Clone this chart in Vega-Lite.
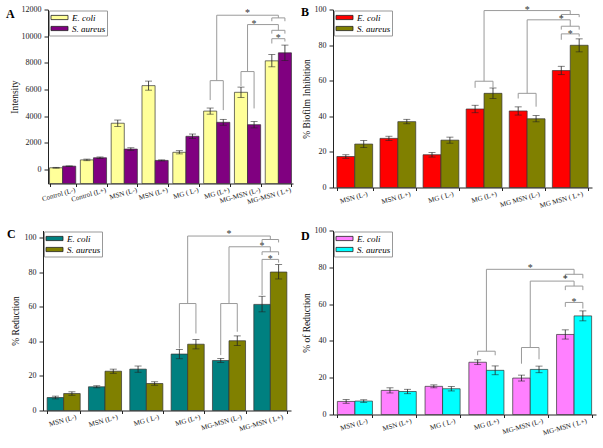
{
"$schema": "https://vega.github.io/schema/vega-lite/v6.json",
"padding": {"left": 0, "top": 4.5, "right": 2, "bottom": 2},
"background": "white",
"config": {
  "font": "Liberation Serif",
  "view": {"stroke": null},
  "axis": {"labelFont": "Liberation Serif", "titleFont": "Liberation Serif", "labelColor": "#222", "titleColor": "#111", "domain": true, "ticks": true, "domainColor": "#222", "tickColor": "#222", "grid": false, "titleFontWeight": "normal", "labelFontSize": 8, "titleFontSize": 9.5, "labelOverlap": false},
  "axisX": {"labelAngle": -16, "labelAlign": "right", "labelBaseline": "top", "labelOffset": 11, "labelFontSize": 7, "tickBand": "extent", "tickSize": 3, "labelPadding": -1, "title": null},
  "axisY": {"tickSize": 4, "labelPadding": 3, "labelOverlap": false, "labelFlush": false},
  "title": {"font": "Liberation Serif", "fontSize": 12, "fontWeight": "bold", "anchor": "start", "frame": "bounds", "baseline": "top", "color": "#000"},
  "legend": {"title": null, "orient": "top-left", "offset": 1, "padding": 1.5, "strokeColor": "#999", "fillColor": "white", "symbolType": "M-1.7,-0.42H1.7V0.42H-1.7Z", "symbolSize": 100, "symbolOffset": 3.5, "symbolStrokeColor": "#222", "symbolStrokeWidth": 0.8, "symbolOpacity": 1, "labelFont": "Liberation Serif", "labelFontStyle": "italic", "labelFontSize": 9, "labelOffset": 7, "rowPadding": 0}
},
"datasets": {
  "Abar": [
    {"c":"Control (L-)","s":"E. coli","v":130,"lo":100,"hi":160},
    {"c":"Control (L-)","s":"S. aureus","v":250,"lo":230,"hi":270},
    {"c":"Control (L+)","s":"E. coli","v":720,"lo":660,"hi":780},
    {"c":"Control (L+)","s":"S. aureus","v":880,"lo":820,"hi":940},
    {"c":"MSN (L-)","s":"E. coli","v":3470,"lo":3230,"hi":3710},
    {"c":"MSN (L-)","s":"S. aureus","v":1530,"lo":1430,"hi":1630},
    {"c":"MSN (L+)","s":"E. coli","v":6290,"lo":5950,"hi":6630},
    {"c":"MSN (L+)","s":"S. aureus","v":680,"lo":640,"hi":720},
    {"c":"MG ( L-)","s":"E. coli","v":1290,"lo":1170,"hi":1410},
    {"c":"MG ( L-)","s":"S. aureus","v":2490,"lo":2320,"hi":2660},
    {"c":"MG (L+)","s":"E. coli","v":4380,"lo":4150,"hi":4610},
    {"c":"MG (L+)","s":"S. aureus","v":3540,"lo":3320,"hi":3760},
    {"c":"MG-MSN (L-)","s":"E. coli","v":5790,"lo":5400,"hi":6180},
    {"c":"MG-MSN (L-)","s":"S. aureus","v":3360,"lo":3120,"hi":3600},
    {"c":"MG-MSN ( L+)","s":"E. coli","v":8150,"lo":7700,"hi":8620},
    {"c":"MG-MSN ( L+)","s":"S. aureus","v":8750,"lo":8170,"hi":9330}
  ],
  "Abrk": [
    {"c":"MG (L+)","s":"E. coli","y":5207,"id":"b1","o":1},
    {"c":"MG (L+)","s":"E. coli","y":6665,"id":"b1","o":2},
    {"c":"MG (L+)","s":"S. aureus","y":6665,"id":"b1","o":3},
    {"c":"MG (L+)","s":"S. aureus","y":4453,"id":"b1","o":4},
    {"c":"MG-MSN (L-)","s":"E. coli","y":6265,"id":"b2","o":1},
    {"c":"MG-MSN (L-)","s":"E. coli","y":7345,"id":"b2","o":2},
    {"c":"MG-MSN (L-)","s":"S. aureus","y":7345,"id":"b2","o":3},
    {"c":"MG-MSN (L-)","s":"S. aureus","y":4580,"id":"b2","o":4},
    {"c":"MG-MSN ( L+)","s":"E. coli","y":11120,"id":"t1","o":1},
    {"c":"MG-MSN ( L+)","s":"E. coli","y":11370,"id":"t1","o":2},
    {"c":"MG-MSN ( L+)","s":"S. aureus","y":11370,"id":"t1","o":3},
    {"c":"MG-MSN ( L+)","s":"S. aureus","y":11120,"id":"t1","o":4},
    {"c":"MG-MSN ( L+)","s":"E. coli","y":10190,"id":"t2","o":1},
    {"c":"MG-MSN ( L+)","s":"E. coli","y":10440,"id":"t2","o":2},
    {"c":"MG-MSN ( L+)","s":"S. aureus","y":10440,"id":"t2","o":3},
    {"c":"MG-MSN ( L+)","s":"S. aureus","y":10190,"id":"t2","o":4},
    {"c":"MG-MSN ( L+)","s":"E. coli","y":9450,"id":"t3","o":1},
    {"c":"MG-MSN ( L+)","s":"E. coli","y":9810,"id":"t3","o":2},
    {"c":"MG-MSN ( L+)","s":"S. aureus","y":9810,"id":"t3","o":3},
    {"c":"MG-MSN ( L+)","s":"S. aureus","y":9600,"id":"t3","o":4}
  ],
  "Acon": [
    {"c":"MG (L+)","y":6665,"id":"k1","o":1},
    {"c":"MG (L+)","y":11570,"id":"k1","o":2},
    {"c":"MG-MSN ( L+)","y":11570,"id":"k1","o":3},
    {"c":"MG-MSN ( L+)","y":11370,"id":"k1","o":4},
    {"c":"MG-MSN (L-)","y":7345,"id":"k2","o":1},
    {"c":"MG-MSN (L-)","y":10870,"id":"k2","o":2},
    {"c":"MG-MSN ( L+)","y":10870,"id":"k2","o":3},
    {"c":"MG-MSN ( L+)","y":10440,"id":"k2","o":4}
  ],
  "AstO": [{"c":"MG-MSN (L-)","s":"S. aureus","y":11030}],
  "AstM": [{"c":"MG-MSN (L-)","y":11900},{"c":"MG-MSN ( L+)","y":10040}],
  "Bbar": [
    {"c":"MSN (L-)","s":"E. coli","v":17.4,"lo":16.4,"hi":18.4},
    {"c":"MSN (L-)","s":"S. aureus","v":24.4,"lo":22.4,"hi":26.4},
    {"c":"MSN (L+)","s":"E. coli","v":27.6,"lo":26.4,"hi":28.8},
    {"c":"MSN (L+)","s":"S. aureus","v":37,"lo":35.8,"hi":38.3},
    {"c":"MG ( L-)","s":"E. coli","v":18.4,"lo":17.1,"hi":19.7},
    {"c":"MG ( L-)","s":"S. aureus","v":26.6,"lo":24.9,"hi":28.3},
    {"c":"MG (L+)","s":"E. coli","v":44.1,"lo":42,"hi":46.2},
    {"c":"MG (L+)","s":"S. aureus","v":52.9,"lo":50,"hi":55.9},
    {"c":"MG MSN (L-)","s":"E. coli","v":43,"lo":40.7,"hi":45.3},
    {"c":"MG MSN (L-)","s":"S. aureus","v":38.6,"lo":36.9,"hi":40.4},
    {"c":"MG MSN ( L+)","s":"E. coli","v":65.7,"lo":63.4,"hi":68.1},
    {"c":"MG MSN ( L+)","s":"S. aureus","v":79.9,"lo":76.2,"hi":83.5}
  ],
  "Bbrk": [
    {"c":"MG (L+)","s":"E. coli","y":56,"id":"b1","o":1},
    {"c":"MG (L+)","s":"E. coli","y":59.7,"id":"b1","o":2},
    {"c":"MG (L+)","s":"S. aureus","y":59.7,"id":"b1","o":3},
    {"c":"MG (L+)","s":"S. aureus","y":56,"id":"b1","o":4},
    {"c":"MG MSN (L-)","s":"E. coli","y":50,"id":"b2","o":1},
    {"c":"MG MSN (L-)","s":"E. coli","y":52.9,"id":"b2","o":2},
    {"c":"MG MSN (L-)","s":"S. aureus","y":52.9,"id":"b2","o":3},
    {"c":"MG MSN (L-)","s":"S. aureus","y":45.4,"id":"b2","o":4},
    {"c":"MG MSN ( L+)","s":"E. coli","y":95.7,"id":"t1","o":1},
    {"c":"MG MSN ( L+)","s":"E. coli","y":97.2,"id":"t1","o":2},
    {"c":"MG MSN ( L+)","s":"S. aureus","y":97.2,"id":"t1","o":3},
    {"c":"MG MSN ( L+)","s":"S. aureus","y":95.7,"id":"t1","o":4},
    {"c":"MG MSN ( L+)","s":"E. coli","y":88.7,"id":"t2","o":1},
    {"c":"MG MSN ( L+)","s":"E. coli","y":90.6,"id":"t2","o":2},
    {"c":"MG MSN ( L+)","s":"S. aureus","y":90.6,"id":"t2","o":3},
    {"c":"MG MSN ( L+)","s":"S. aureus","y":88.7,"id":"t2","o":4},
    {"c":"MG MSN ( L+)","s":"E. coli","y":83,"id":"t3","o":1},
    {"c":"MG MSN ( L+)","s":"E. coli","y":86.3,"id":"t3","o":2},
    {"c":"MG MSN ( L+)","s":"S. aureus","y":86.3,"id":"t3","o":3},
    {"c":"MG MSN ( L+)","s":"S. aureus","y":84.8,"id":"t3","o":4}
  ],
  "Bcon": [
    {"c":"MG (L+)","y":59.7,"id":"k1","o":1},
    {"c":"MG (L+)","y":99.4,"id":"k1","o":2},
    {"c":"MG MSN ( L+)","y":99.4,"id":"k1","o":3},
    {"c":"MG MSN ( L+)","y":97.2,"id":"k1","o":4},
    {"c":"MG MSN (L-)","y":52.9,"id":"k2","o":1},
    {"c":"MG MSN (L-)","y":94.2,"id":"k2","o":2},
    {"c":"MG MSN ( L+)","y":94.2,"id":"k2","o":3},
    {"c":"MG MSN ( L+)","y":90.6,"id":"k2","o":4}
  ],
  "BstO": [{"c":"MG MSN ( L+)","s":"E. coli","y":95.7}],
  "BstM": [{"c":"MG MSN (L-)","y":101},{"c":"MG MSN ( L+)","y":87.6}],
  "Cbar": [
    {"c":"MSN (L-)","s":"E. coli","v":7.5,"lo":6.7,"hi":8.3},
    {"c":"MSN (L-)","s":"S. aureus","v":9.8,"lo":8.8,"hi":10.8},
    {"c":"MSN (L+)","s":"E. coli","v":13.7,"lo":13.1,"hi":14.3},
    {"c":"MSN (L+)","s":"S. aureus","v":22.7,"lo":21.5,"hi":23.9},
    {"c":"MG ( L-)","s":"E. coli","v":23.9,"lo":22.1,"hi":25.7},
    {"c":"MG ( L-)","s":"S. aureus","v":15.6,"lo":14.6,"hi":16.6},
    {"c":"MG (L+)","s":"E. coli","v":32.6,"lo":29.9,"hi":35.3},
    {"c":"MG (L+)","s":"S. aureus","v":38.3,"lo":35.6,"hi":41},
    {"c":"MG-MSN (L-)","s":"E. coli","v":28.9,"lo":27.7,"hi":30.1},
    {"c":"MG-MSN (L-)","s":"S. aureus","v":40.3,"lo":37.5,"hi":43.1},
    {"c":"MG-MSN ( L+)","s":"E. coli","v":61.3,"lo":57,"hi":66},
    {"c":"MG-MSN ( L+)","s":"S. aureus","v":80,"lo":76,"hi":84.3}
  ],
  "Cbrk": [
    {"c":"MG (L+)","s":"E. coli","y":35.8,"id":"b1","o":1},
    {"c":"MG (L+)","s":"E. coli","y":61.8,"id":"b1","o":2},
    {"c":"MG (L+)","s":"S. aureus","y":61.8,"id":"b1","o":3},
    {"c":"MG (L+)","s":"S. aureus","y":44.5,"id":"b1","o":4},
    {"c":"MG-MSN (L-)","s":"E. coli","y":32,"id":"b2","o":1},
    {"c":"MG-MSN (L-)","s":"E. coli","y":61.8,"id":"b2","o":2},
    {"c":"MG-MSN (L-)","s":"S. aureus","y":61.8,"id":"b2","o":3},
    {"c":"MG-MSN (L-)","s":"S. aureus","y":45.5,"id":"b2","o":4},
    {"c":"MG-MSN ( L+)","s":"E. coli","y":97.1,"id":"t1","o":1},
    {"c":"MG-MSN ( L+)","s":"E. coli","y":98.8,"id":"t1","o":2},
    {"c":"MG-MSN ( L+)","s":"S. aureus","y":98.8,"id":"t1","o":3},
    {"c":"MG-MSN ( L+)","s":"S. aureus","y":97.1,"id":"t1","o":4},
    {"c":"MG-MSN ( L+)","s":"E. coli","y":89.8,"id":"t2","o":1},
    {"c":"MG-MSN ( L+)","s":"E. coli","y":91.7,"id":"t2","o":2},
    {"c":"MG-MSN ( L+)","s":"S. aureus","y":91.7,"id":"t2","o":3},
    {"c":"MG-MSN ( L+)","s":"S. aureus","y":89.8,"id":"t2","o":4},
    {"c":"MG-MSN ( L+)","s":"E. coli","y":66.7,"id":"t3","o":1},
    {"c":"MG-MSN ( L+)","s":"E. coli","y":87.3,"id":"t3","o":2},
    {"c":"MG-MSN ( L+)","s":"S. aureus","y":87.3,"id":"t3","o":3},
    {"c":"MG-MSN ( L+)","s":"S. aureus","y":85.4,"id":"t3","o":4}
  ],
  "Ccon": [
    {"c":"MG (L+)","y":61.8,"id":"k1","o":1},
    {"c":"MG (L+)","y":100.8,"id":"k1","o":2},
    {"c":"MG-MSN ( L+)","y":100.8,"id":"k1","o":3},
    {"c":"MG-MSN ( L+)","y":98.8,"id":"k1","o":4},
    {"c":"MG-MSN (L-)","y":61.8,"id":"k2","o":1},
    {"c":"MG-MSN (L-)","y":94.6,"id":"k2","o":2},
    {"c":"MG-MSN ( L+)","y":94.6,"id":"k2","o":3},
    {"c":"MG-MSN ( L+)","y":91.7,"id":"k2","o":4}
  ],
  "CstO": [{"c":"MG-MSN ( L+)","s":"E. coli","y":96.1}],
  "CstM": [{"c":"MG-MSN (L-)","y":103.3},{"c":"MG-MSN ( L+)","y":88.8}],
  "Dbar": [
    {"c":"MSN (L-)","s":"E. coli","v":7.1,"lo":6.1,"hi":8.1},
    {"c":"MSN (L-)","s":"S. aureus","v":7.3,"lo":6.6,"hi":8},
    {"c":"MSN (L+)","s":"E. coli","v":13.1,"lo":11.7,"hi":14.5},
    {"c":"MSN (L+)","s":"S. aureus","v":12.5,"lo":11.3,"hi":13.7},
    {"c":"MG ( L-)","s":"E. coli","v":15.3,"lo":14.5,"hi":16.1},
    {"c":"MG ( L-)","s":"S. aureus","v":14,"lo":12.8,"hi":15.2},
    {"c":"MG (L+)","s":"E. coli","v":28.4,"lo":27.1,"hi":29.7},
    {"c":"MG (L+)","s":"S. aureus","v":24,"lo":21.6,"hi":26.4},
    {"c":"MG-MSN (L-)","s":"E. coli","v":19.8,"lo":18.2,"hi":21.4},
    {"c":"MG-MSN (L-)","s":"S. aureus","v":24.5,"lo":22.7,"hi":26.3},
    {"c":"MG-MSN ( L+)","s":"E. coli","v":43.5,"lo":41,"hi":46},
    {"c":"MG-MSN ( L+)","s":"S. aureus","v":53.6,"lo":50.9,"hi":56.3}
  ],
  "Dbrk": [
    {"c":"MG (L+)","s":"E. coli","y":32.2,"id":"b1","o":1},
    {"c":"MG (L+)","s":"E. coli","y":34.4,"id":"b1","o":2},
    {"c":"MG (L+)","s":"S. aureus","y":34.4,"id":"b1","o":3},
    {"c":"MG (L+)","s":"S. aureus","y":32.2,"id":"b1","o":4},
    {"c":"MG-MSN (L-)","s":"E. coli","y":27.6,"id":"b2","o":1},
    {"c":"MG-MSN (L-)","s":"E. coli","y":36.4,"id":"b2","o":2},
    {"c":"MG-MSN (L-)","s":"S. aureus","y":36.4,"id":"b2","o":3},
    {"c":"MG-MSN (L-)","s":"S. aureus","y":30,"id":"b2","o":4},
    {"c":"MG-MSN ( L+)","s":"E. coli","y":74,"id":"t1","o":1},
    {"c":"MG-MSN ( L+)","s":"E. coli","y":76.2,"id":"t1","o":2},
    {"c":"MG-MSN ( L+)","s":"S. aureus","y":76.2,"id":"t1","o":3},
    {"c":"MG-MSN ( L+)","s":"S. aureus","y":74,"id":"t1","o":4},
    {"c":"MG-MSN ( L+)","s":"E. coli","y":67.6,"id":"t2","o":1},
    {"c":"MG-MSN ( L+)","s":"E. coli","y":69.8,"id":"t2","o":2},
    {"c":"MG-MSN ( L+)","s":"S. aureus","y":69.8,"id":"t2","o":3},
    {"c":"MG-MSN ( L+)","s":"S. aureus","y":67.6,"id":"t2","o":4},
    {"c":"MG-MSN ( L+)","s":"E. coli","y":58.5,"id":"t3","o":1},
    {"c":"MG-MSN ( L+)","s":"E. coli","y":60.9,"id":"t3","o":2},
    {"c":"MG-MSN ( L+)","s":"S. aureus","y":60.9,"id":"t3","o":3},
    {"c":"MG-MSN ( L+)","s":"S. aureus","y":57.6,"id":"t3","o":4}
  ],
  "Dcon": [
    {"c":"MG (L+)","y":34.4,"id":"k1","o":1},
    {"c":"MG (L+)","y":78.9,"id":"k1","o":2},
    {"c":"MG-MSN ( L+)","y":78.9,"id":"k1","o":3},
    {"c":"MG-MSN ( L+)","y":76.2,"id":"k1","o":4},
    {"c":"MG-MSN (L-)","y":36.4,"id":"k2","o":1},
    {"c":"MG-MSN (L-)","y":72.5,"id":"k2","o":2},
    {"c":"MG-MSN ( L+)","y":72.5,"id":"k2","o":3},
    {"c":"MG-MSN ( L+)","y":69.8,"id":"k2","o":4}
  ],
  "DstO": [{"c":"MG-MSN ( L+)","s":"E. coli","y":74.5}],
  "DstM": [{"c":"MG-MSN (L-)","y":80.7},{"c":"MG-MSN ( L+)","y":62.5}]
},
"resolve": {"scale": {"color": "independent", "x": "independent", "y": "independent", "xOffset": "independent"}, "legend": {"color": "independent"}},
"spacing": 17,
"vconcat": [
 {"hconcat": [
  {"width": 8, "height": 10, "data": {"values": []}, "mark": {"type": "point", "opacity": 0}},
  {"width": 245, "height": 174,
   "title": {"text": "A", "offset": -15.5, "dx": -3},
   "encoding": {"x": {"field": "c", "type": "nominal", "sort": null, "scale": {"domain": ["Control (L-)","Control (L+)","MSN (L-)","MSN (L+)","MG ( L-)","MG (L+)","MG-MSN (L-)","MG-MSN ( L+)"], "paddingInner": 0.15, "paddingOuter": 0.05}, "axis": {"title": null}}},
   "layer": [
    {"data": {"name": "Abar"}, "mark": {"type": "bar", "stroke": "#333", "strokeWidth": 0.7},
     "encoding": {"xOffset": {"field": "s", "type": "nominal", "scale": {"domain": ["E. coli","S. aureus"], "paddingInner": 0, "paddingOuter": 0}},
      "y": {"field": "v", "type": "quantitative", "scale": {"domain": [-1050, 12000], "nice": false, "zero": false}, "axis": {"title": "Intensity", "values": [0,2000,4000,6000,8000,10000,12000], "tickCount": 7, "format": "d", "titlePadding": 2, "labelOverlap": false}},
      "y2": {"datum": -1050},
      "color": {"field": "s", "type": "nominal", "scale": {"domain": ["E. coli","S. aureus"], "range": ["#FFFF99","#800080"]}, "legend": {"title": null}}}},
    {"data": {"name": "Abar"}, "mark": {"type": "rule", "color": "#222", "strokeWidth": 0.8},
     "encoding": {"xOffset": {"field": "s", "type": "nominal", "scale": {"domain": ["E. coli","S. aureus"], "paddingInner": 0, "paddingOuter": 0}},
      "y": {"field": "lo", "type": "quantitative", "scale": {"domain": [-1050, 12000], "nice": false, "zero": false}, "axis": {"title": "Intensity", "values": [0,2000,4000,6000,8000,10000,12000], "tickCount": 7, "format": "d", "titlePadding": 2, "labelOverlap": false}}, "y2": {"field": "hi"}}},
    {"data": {"name": "Abar"}, "mark": {"type": "tick", "color": "#222", "thickness": 0.8, "size": 7},
     "encoding": {"xOffset": {"field": "s", "type": "nominal", "scale": {"domain": ["E. coli","S. aureus"], "paddingInner": 0, "paddingOuter": 0}},
      "y": {"field": "lo", "type": "quantitative", "scale": {"domain": [-1050, 12000], "nice": false, "zero": false}, "axis": {"title": "Intensity", "values": [0,2000,4000,6000,8000,10000,12000], "tickCount": 7, "format": "d", "titlePadding": 2, "labelOverlap": false}}}},
    {"data": {"name": "Abar"}, "mark": {"type": "tick", "color": "#222", "thickness": 0.8, "size": 7},
     "encoding": {"xOffset": {"field": "s", "type": "nominal", "scale": {"domain": ["E. coli","S. aureus"], "paddingInner": 0, "paddingOuter": 0}},
      "y": {"field": "hi", "type": "quantitative", "scale": {"domain": [-1050, 12000], "nice": false, "zero": false}, "axis": {"title": "Intensity", "values": [0,2000,4000,6000,8000,10000,12000], "tickCount": 7, "format": "d", "titlePadding": 2, "labelOverlap": false}}}},
    {"data": {"name": "Abrk"}, "mark": {"type": "line", "color": "#9a9a9a", "strokeWidth": 1},
     "encoding": {"xOffset": {"field": "s", "type": "nominal", "scale": {"domain": ["E. coli","S. aureus"], "paddingInner": 0, "paddingOuter": 0}},
      "y": {"field": "y", "type": "quantitative", "scale": {"domain": [-1050, 12000], "nice": false, "zero": false}, "axis": {"title": "Intensity", "values": [0,2000,4000,6000,8000,10000,12000], "tickCount": 7, "format": "d", "titlePadding": 2, "labelOverlap": false}},
      "detail": {"field": "id", "type": "nominal"}, "order": {"field": "o", "type": "quantitative"}}},
    {"data": {"name": "Acon"}, "mark": {"type": "line", "color": "#9a9a9a", "strokeWidth": 1},
     "encoding": {"y": {"field": "y", "type": "quantitative", "scale": {"domain": [-1050, 12000], "nice": false, "zero": false}, "axis": {"title": "Intensity", "values": [0,2000,4000,6000,8000,10000,12000], "tickCount": 7, "format": "d", "titlePadding": 2, "labelOverlap": false}},
      "detail": {"field": "id", "type": "nominal"}, "order": {"field": "o", "type": "quantitative"}}},
    {"data": {"name": "AstO"}, "mark": {"type": "text", "text": "*", "fontSize": 10, "baseline": "middle", "dy": 2, "color": "#333"},
     "encoding": {"xOffset": {"field": "s", "type": "nominal", "scale": {"domain": ["E. coli","S. aureus"], "paddingInner": 0, "paddingOuter": 0}},
      "y": {"field": "y", "type": "quantitative", "scale": {"domain": [-1050, 12000], "nice": false, "zero": false}, "axis": {"title": "Intensity", "values": [0,2000,4000,6000,8000,10000,12000], "tickCount": 7, "format": "d", "titlePadding": 2, "labelOverlap": false}}}},
    {"data": {"name": "AstM"}, "mark": {"type": "text", "text": "*", "fontSize": 10, "baseline": "middle", "dy": 2, "color": "#333"},
     "encoding": {"y": {"field": "y", "type": "quantitative", "scale": {"domain": [-1050, 12000], "nice": false, "zero": false}, "axis": {"title": "Intensity", "values": [0,2000,4000,6000,8000,10000,12000], "tickCount": 7, "format": "d", "titlePadding": 2, "labelOverlap": false}}}}
   ]},
  {"width": 259, "height": 178,
   "title": {"text": "B", "offset": -14.5, "dx": 0},
   "encoding": {"x": {"field": "c", "type": "nominal", "sort": null, "scale": {"domain": ["MSN (L-)","MSN (L+)","MG ( L-)","MG (L+)","MG MSN (L-)","MG MSN ( L+)"], "paddingInner": 0.17, "paddingOuter": 0.09}, "axis": {"title": null}}},
   "layer": [
    {"data": {"name": "Bbar"}, "mark": {"type": "bar", "stroke": "#333", "strokeWidth": 0.7},
     "encoding": {"xOffset": {"field": "s", "type": "nominal", "scale": {"domain": ["E. coli","S. aureus"], "paddingInner": 0, "paddingOuter": 0}},
      "y": {"field": "v", "type": "quantitative", "scale": {"domain": [0, 100], "nice": false}, "axis": {"title": "% Biofilm Inhibition", "values": [0,20,40,60,80,100], "tickCount": 6, "titlePadding": 3, "labelOverlap": false}},
      "color": {"field": "s", "type": "nominal", "scale": {"domain": ["E. coli","S. aureus"], "range": ["#FF0000","#808000"]}, "legend": {"title": null}}}},
    {"data": {"name": "Bbar"}, "mark": {"type": "rule", "color": "#222", "strokeWidth": 0.8},
     "encoding": {"xOffset": {"field": "s", "type": "nominal", "scale": {"domain": ["E. coli","S. aureus"], "paddingInner": 0, "paddingOuter": 0}},
      "y": {"field": "lo", "type": "quantitative", "scale": {"domain": [0, 100], "nice": false}, "axis": {"title": "% Biofilm Inhibition", "values": [0,20,40,60,80,100], "tickCount": 6, "titlePadding": 3, "labelOverlap": false}}, "y2": {"field": "hi"}}},
    {"data": {"name": "Bbar"}, "mark": {"type": "tick", "color": "#222", "thickness": 0.8, "size": 7},
     "encoding": {"xOffset": {"field": "s", "type": "nominal", "scale": {"domain": ["E. coli","S. aureus"], "paddingInner": 0, "paddingOuter": 0}},
      "y": {"field": "lo", "type": "quantitative", "scale": {"domain": [0, 100], "nice": false}, "axis": {"title": "% Biofilm Inhibition", "values": [0,20,40,60,80,100], "tickCount": 6, "titlePadding": 3, "labelOverlap": false}}}},
    {"data": {"name": "Bbar"}, "mark": {"type": "tick", "color": "#222", "thickness": 0.8, "size": 7},
     "encoding": {"xOffset": {"field": "s", "type": "nominal", "scale": {"domain": ["E. coli","S. aureus"], "paddingInner": 0, "paddingOuter": 0}},
      "y": {"field": "hi", "type": "quantitative", "scale": {"domain": [0, 100], "nice": false}, "axis": {"title": "% Biofilm Inhibition", "values": [0,20,40,60,80,100], "tickCount": 6, "titlePadding": 3, "labelOverlap": false}}}},
    {"data": {"name": "Bbrk"}, "mark": {"type": "line", "color": "#9a9a9a", "strokeWidth": 1},
     "encoding": {"xOffset": {"field": "s", "type": "nominal", "scale": {"domain": ["E. coli","S. aureus"], "paddingInner": 0, "paddingOuter": 0}},
      "y": {"field": "y", "type": "quantitative", "scale": {"domain": [0, 100], "nice": false}, "axis": {"title": "% Biofilm Inhibition", "values": [0,20,40,60,80,100], "tickCount": 6, "titlePadding": 3, "labelOverlap": false}},
      "detail": {"field": "id", "type": "nominal"}, "order": {"field": "o", "type": "quantitative"}}},
    {"data": {"name": "Bcon"}, "mark": {"type": "line", "color": "#9a9a9a", "strokeWidth": 1},
     "encoding": {"y": {"field": "y", "type": "quantitative", "scale": {"domain": [0, 100], "nice": false}, "axis": {"title": "% Biofilm Inhibition", "values": [0,20,40,60,80,100], "tickCount": 6, "titlePadding": 3, "labelOverlap": false}},
      "detail": {"field": "id", "type": "nominal"}, "order": {"field": "o", "type": "quantitative"}}},
    {"data": {"name": "BstO"}, "mark": {"type": "text", "text": "*", "fontSize": 10, "baseline": "middle", "dy": 2, "color": "#333"},
     "encoding": {"xOffset": {"field": "s", "type": "nominal", "scale": {"domain": ["E. coli","S. aureus"], "paddingInner": 0, "paddingOuter": 0}},
      "y": {"field": "y", "type": "quantitative", "scale": {"domain": [0, 100], "nice": false}, "axis": {"title": "% Biofilm Inhibition", "values": [0,20,40,60,80,100], "tickCount": 6, "titlePadding": 3, "labelOverlap": false}}}},
    {"data": {"name": "BstM"}, "mark": {"type": "text", "text": "*", "fontSize": 10, "baseline": "middle", "dy": 2, "color": "#333"},
     "encoding": {"y": {"field": "y", "type": "quantitative", "scale": {"domain": [0, 100], "nice": false}, "axis": {"title": "% Biofilm Inhibition", "values": [0,20,40,60,80,100], "tickCount": 6, "titlePadding": 3, "labelOverlap": false}}}}
   ]}
 ], "spacing": 40, "bounds": "flush", "resolve": {"scale": {"color": "independent", "x": "independent", "y": "independent", "xOffset": "independent"}, "legend": {"color": "independent"}}},
 {"hconcat": [
  {"width": 1, "height": 10, "data": {"values": []}, "mark": {"type": "point", "opacity": 0}},
  {"width": 248, "height": 180,
   "title": {"text": "C", "offset": -12, "dx": -3},
   "encoding": {"x": {"field": "c", "type": "nominal", "sort": null, "scale": {"domain": ["MSN (L-)","MSN (L+)","MG ( L-)","MG (L+)","MG-MSN (L-)","MG-MSN ( L+)"], "paddingInner": 0.2, "paddingOuter": 0.1}, "axis": {"title": null}}},
   "layer": [
    {"data": {"name": "Cbar"}, "mark": {"type": "bar", "stroke": "#333", "strokeWidth": 0.7},
     "encoding": {"xOffset": {"field": "s", "type": "nominal", "scale": {"domain": ["E. coli","S. aureus"], "paddingInner": 0, "paddingOuter": 0}},
      "y": {"field": "v", "type": "quantitative", "scale": {"domain": [0, 104], "nice": false}, "axis": {"title": "% Reduction", "values": [0,20,40,60,80,100], "tickCount": 6, "titlePadding": 4, "labelOverlap": false}},
      "color": {"field": "s", "type": "nominal", "scale": {"domain": ["E. coli","S. aureus"], "range": ["#008080","#808000"]}, "legend": {"title": null}}}},
    {"data": {"name": "Cbar"}, "mark": {"type": "rule", "color": "#222", "strokeWidth": 0.8},
     "encoding": {"xOffset": {"field": "s", "type": "nominal", "scale": {"domain": ["E. coli","S. aureus"], "paddingInner": 0, "paddingOuter": 0}},
      "y": {"field": "lo", "type": "quantitative", "scale": {"domain": [0, 104], "nice": false}, "axis": {"title": "% Reduction", "values": [0,20,40,60,80,100], "tickCount": 6, "titlePadding": 4, "labelOverlap": false}}, "y2": {"field": "hi"}}},
    {"data": {"name": "Cbar"}, "mark": {"type": "tick", "color": "#222", "thickness": 0.8, "size": 7},
     "encoding": {"xOffset": {"field": "s", "type": "nominal", "scale": {"domain": ["E. coli","S. aureus"], "paddingInner": 0, "paddingOuter": 0}},
      "y": {"field": "lo", "type": "quantitative", "scale": {"domain": [0, 104], "nice": false}, "axis": {"title": "% Reduction", "values": [0,20,40,60,80,100], "tickCount": 6, "titlePadding": 4, "labelOverlap": false}}}},
    {"data": {"name": "Cbar"}, "mark": {"type": "tick", "color": "#222", "thickness": 0.8, "size": 7},
     "encoding": {"xOffset": {"field": "s", "type": "nominal", "scale": {"domain": ["E. coli","S. aureus"], "paddingInner": 0, "paddingOuter": 0}},
      "y": {"field": "hi", "type": "quantitative", "scale": {"domain": [0, 104], "nice": false}, "axis": {"title": "% Reduction", "values": [0,20,40,60,80,100], "tickCount": 6, "titlePadding": 4, "labelOverlap": false}}}},
    {"data": {"name": "Cbrk"}, "mark": {"type": "line", "color": "#9a9a9a", "strokeWidth": 1},
     "encoding": {"xOffset": {"field": "s", "type": "nominal", "scale": {"domain": ["E. coli","S. aureus"], "paddingInner": 0, "paddingOuter": 0}},
      "y": {"field": "y", "type": "quantitative", "scale": {"domain": [0, 104], "nice": false}, "axis": {"title": "% Reduction", "values": [0,20,40,60,80,100], "tickCount": 6, "titlePadding": 4, "labelOverlap": false}},
      "detail": {"field": "id", "type": "nominal"}, "order": {"field": "o", "type": "quantitative"}}},
    {"data": {"name": "Ccon"}, "mark": {"type": "line", "color": "#9a9a9a", "strokeWidth": 1},
     "encoding": {"y": {"field": "y", "type": "quantitative", "scale": {"domain": [0, 104], "nice": false}, "axis": {"title": "% Reduction", "values": [0,20,40,60,80,100], "tickCount": 6, "titlePadding": 4, "labelOverlap": false}},
      "detail": {"field": "id", "type": "nominal"}, "order": {"field": "o", "type": "quantitative"}}},
    {"data": {"name": "CstO"}, "mark": {"type": "text", "text": "*", "fontSize": 10, "baseline": "middle", "dy": 2, "color": "#333"},
     "encoding": {"xOffset": {"field": "s", "type": "nominal", "scale": {"domain": ["E. coli","S. aureus"], "paddingInner": 0, "paddingOuter": 0}},
      "y": {"field": "y", "type": "quantitative", "scale": {"domain": [0, 104], "nice": false}, "axis": {"title": "% Reduction", "values": [0,20,40,60,80,100], "tickCount": 6, "titlePadding": 4, "labelOverlap": false}}}},
    {"data": {"name": "CstM"}, "mark": {"type": "text", "text": "*", "fontSize": 10, "baseline": "middle", "dy": 2, "color": "#333"},
     "encoding": {"y": {"field": "y", "type": "quantitative", "scale": {"domain": [0, 104], "nice": false}, "axis": {"title": "% Reduction", "values": [0,20,40,60,80,100], "tickCount": 6, "titlePadding": 4, "labelOverlap": false}}}}
   ]},
  {"width": 263, "height": 184,
   "title": {"text": "D", "offset": -16.5, "dx": 0},
   "encoding": {"x": {"field": "c", "type": "nominal", "sort": null, "scale": {"domain": ["MSN (L-)","MSN (L+)","MG ( L-)","MG (L+)","MG-MSN (L-)","MG-MSN ( L+)"], "paddingInner": 0.2, "paddingOuter": 0.1}, "axis": {"title": null}}},
   "layer": [
    {"data": {"name": "Dbar"}, "mark": {"type": "bar", "stroke": "#333", "strokeWidth": 0.7},
     "encoding": {"xOffset": {"field": "s", "type": "nominal", "scale": {"domain": ["E. coli","S. aureus"], "paddingInner": 0, "paddingOuter": 0}},
      "y": {"field": "v", "type": "quantitative", "scale": {"domain": [0, 100], "nice": false}, "axis": {"title": "% of Reduction", "values": [0,20,40,60,80,100], "tickCount": 6, "titlePadding": 3, "labelOverlap": false}},
      "color": {"field": "s", "type": "nominal", "scale": {"domain": ["E. coli","S. aureus"], "range": ["#FF80FF","#00FFFF"]}, "legend": {"title": null}}}},
    {"data": {"name": "Dbar"}, "mark": {"type": "rule", "color": "#222", "strokeWidth": 0.8},
     "encoding": {"xOffset": {"field": "s", "type": "nominal", "scale": {"domain": ["E. coli","S. aureus"], "paddingInner": 0, "paddingOuter": 0}},
      "y": {"field": "lo", "type": "quantitative", "scale": {"domain": [0, 100], "nice": false}, "axis": {"title": "% of Reduction", "values": [0,20,40,60,80,100], "tickCount": 6, "titlePadding": 3, "labelOverlap": false}}, "y2": {"field": "hi"}}},
    {"data": {"name": "Dbar"}, "mark": {"type": "tick", "color": "#222", "thickness": 0.8, "size": 7},
     "encoding": {"xOffset": {"field": "s", "type": "nominal", "scale": {"domain": ["E. coli","S. aureus"], "paddingInner": 0, "paddingOuter": 0}},
      "y": {"field": "lo", "type": "quantitative", "scale": {"domain": [0, 100], "nice": false}, "axis": {"title": "% of Reduction", "values": [0,20,40,60,80,100], "tickCount": 6, "titlePadding": 3, "labelOverlap": false}}}},
    {"data": {"name": "Dbar"}, "mark": {"type": "tick", "color": "#222", "thickness": 0.8, "size": 7},
     "encoding": {"xOffset": {"field": "s", "type": "nominal", "scale": {"domain": ["E. coli","S. aureus"], "paddingInner": 0, "paddingOuter": 0}},
      "y": {"field": "hi", "type": "quantitative", "scale": {"domain": [0, 100], "nice": false}, "axis": {"title": "% of Reduction", "values": [0,20,40,60,80,100], "tickCount": 6, "titlePadding": 3, "labelOverlap": false}}}},
    {"data": {"name": "Dbrk"}, "mark": {"type": "line", "color": "#9a9a9a", "strokeWidth": 1},
     "encoding": {"xOffset": {"field": "s", "type": "nominal", "scale": {"domain": ["E. coli","S. aureus"], "paddingInner": 0, "paddingOuter": 0}},
      "y": {"field": "y", "type": "quantitative", "scale": {"domain": [0, 100], "nice": false}, "axis": {"title": "% of Reduction", "values": [0,20,40,60,80,100], "tickCount": 6, "titlePadding": 3, "labelOverlap": false}},
      "detail": {"field": "id", "type": "nominal"}, "order": {"field": "o", "type": "quantitative"}}},
    {"data": {"name": "Dcon"}, "mark": {"type": "line", "color": "#9a9a9a", "strokeWidth": 1},
     "encoding": {"y": {"field": "y", "type": "quantitative", "scale": {"domain": [0, 100], "nice": false}, "axis": {"title": "% of Reduction", "values": [0,20,40,60,80,100], "tickCount": 6, "titlePadding": 3, "labelOverlap": false}},
      "detail": {"field": "id", "type": "nominal"}, "order": {"field": "o", "type": "quantitative"}}},
    {"data": {"name": "DstO"}, "mark": {"type": "text", "text": "*", "fontSize": 10, "baseline": "middle", "dy": 2, "color": "#333"},
     "encoding": {"xOffset": {"field": "s", "type": "nominal", "scale": {"domain": ["E. coli","S. aureus"], "paddingInner": 0, "paddingOuter": 0}},
      "y": {"field": "y", "type": "quantitative", "scale": {"domain": [0, 100], "nice": false}, "axis": {"title": "% of Reduction", "values": [0,20,40,60,80,100], "tickCount": 6, "titlePadding": 3, "labelOverlap": false}}}},
    {"data": {"name": "DstM"}, "mark": {"type": "text", "text": "*", "fontSize": 10, "baseline": "middle", "dy": 2, "color": "#333"},
     "encoding": {"y": {"field": "y", "type": "quantitative", "scale": {"domain": [0, 100], "nice": false}, "axis": {"title": "% of Reduction", "values": [0,20,40,60,80,100], "tickCount": 6, "titlePadding": 3, "labelOverlap": false}}}}
   ]}
 ], "spacing": 42, "bounds": "flush", "resolve": {"scale": {"color": "independent", "x": "independent", "y": "independent", "xOffset": "independent"}, "legend": {"color": "independent"}}}
]
}
